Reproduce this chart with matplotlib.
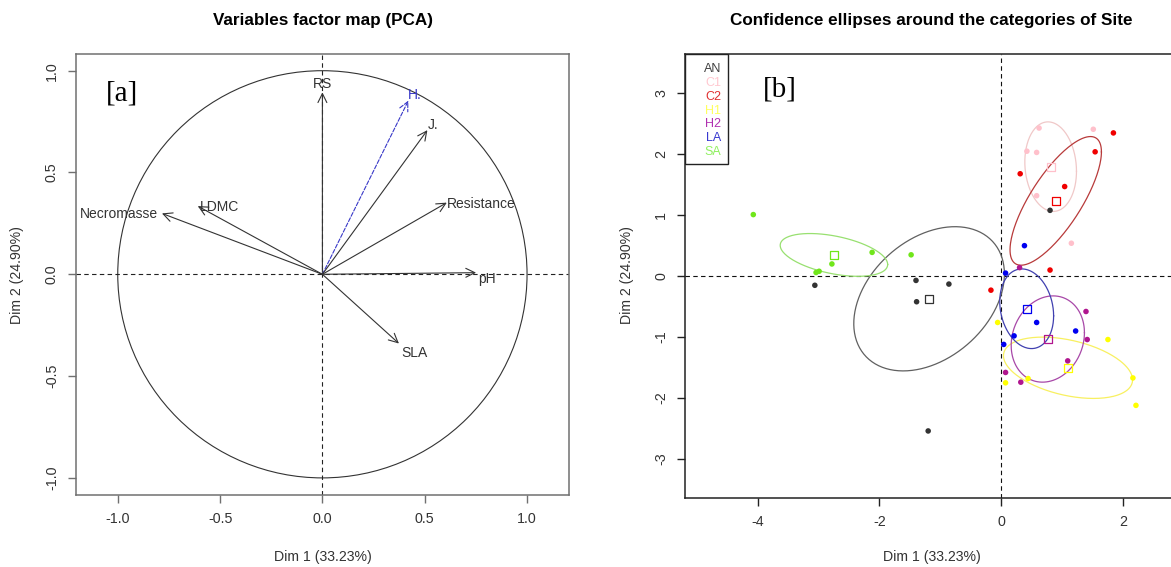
import numpy as np
import matplotlib
matplotlib.use('Agg')
import matplotlib.pyplot as plt
from matplotlib.patches import Circle, Rectangle

plt.rcParams['font.family'] = ['Liberation Sans', 'DejaVu Sans']

# ---- panel a : variables (PCA correlation circle)
var_names = ['RS', 'H.', 'J.', 'Resistance', 'pH', 'SLA', 'Necromasse', 'LDMC']
var_x = [0.0, 0.42, 0.513, 0.608, 0.751, 0.374, -0.784, -0.609]
var_y = [0.894, 0.853, 0.708, 0.352, 0.008, -0.340, 0.299, 0.335]

# ---- panel b : individuals by site
sites = ['AN', 'C1', 'C2', 'H1', 'H2', 'LA', 'SA']
AN_x = [0.80, -3.06, -1.40, -0.86, -1.39, -1.20]
AN_y = [1.08, -0.15, -0.07, -0.13, -0.42, -2.54]
C1_x = [0.62, 1.51, 0.42, 0.58, 0.58, 1.15]
C1_y = [2.43, 2.41, 2.05, 2.03, 1.32, 0.54]
C2_x = [1.84, 1.54, 0.31, 1.04, 0.80, -0.17]
C2_y = [2.35, 2.04, 1.68, 1.47, 0.10, -0.23]
H1_x = [-0.06, 0.07, 0.44, 1.75, 2.16, 2.21]
H1_y = [-0.76, -1.75, -1.68, -1.04, -1.67, -2.12]
H2_x = [1.39, 1.41, 1.09, 0.07, 0.32, 0.30]
H2_y = [-0.58, -1.04, -1.39, -1.58, -1.74, 0.14]
LA_x = [0.58, 1.22, 0.21, 0.04, 0.38, 0.07]
LA_y = [-0.76, -0.90, -0.98, -1.12, 0.50, 0.05]
SA_x = [-4.07, -2.12, -1.48, -2.78, -3.04, -2.99]
SA_y = [1.01, 0.39, 0.35, 0.20, 0.06, 0.08]

site_x = [AN_x, C1_x, C2_x, H1_x, H2_x, LA_x, SA_x]
site_y = [AN_y, C1_y, C2_y, H1_y, H2_y, LA_y, SA_y]

pt_col = ['#333333', '#FFC0CB', '#F00000', '#FFFF00', '#B0168F', '#0000F0', '#70E61A']
ell_col = ['#606060', '#F0C8C8', '#B83A3A', '#F8F060', '#A848A8', '#4040B0', '#98E070']
leg_col = ['#404040', '#FFC8D0', '#E03030', '#FFFF60', '#B030B0', '#3838D0', '#90F060']

# label placement (dx, dy, ha)
lab_pos = {'RS': (0, 0.04, 'center'), 'H.': (0, 0.028, 'left'), 'J.': (0, 0.026, 'left'),
           'Resistance': (0, -0.008, 'left'), 'pH': (0.01, -0.031, 'left'),
           'SLA': (0.01, -0.048, 'left'), 'Necromasse': (-0.02, -0.003, 'right'),
           'LDMC': (0.01, -0.004, 'left')}

W, H = 1171, 567
fig = plt.figure(figsize=(W / 100, H / 100), dpi=100)


def px_axes(x0, y0, x1, y1):
    return fig.add_axes([x0 / W, 1 - y1 / H, (x1 - x0) / W, (y1 - y0) / H])


def style_axes(ax, col):
    for s in ax.spines.values():
        s.set_color(col)
        s.set_linewidth(1.1)
    ax.tick_params(axis='both', length=5.8, width=1.0, color=col, labelsize=10.3,
                   labelcolor='#333333', pad=6.5)
    ax.tick_params(axis='y', labelrotation=90)
    for t in ax.get_yticklabels():
        t.set_va('center')


# ---------------- panel a
ax1 = px_axes(76, 54, 569, 495)
ax1.set_xlim(-1.204, 1.205)
ax1.set_ylim(-1.084, 1.082)
ax1.add_patch(Circle((0, 0), 1, fill=False, color='#333333', lw=0.8))
ax1.axhline(0, color='#222222', lw=0.8, ls=(0, (4, 3)))
ax1.axvline(0, color='#222222', lw=0.8, ls=(0, (4, 3)))
for n, x, y in zip(var_names, var_x, var_y):
    c = '#3838C8' if n == 'H.' else '#333333'
    ls = '--' if n == 'H.' else '-'
    ax1.annotate('', xy=(x, y), xytext=(0, 0),
                 arrowprops=dict(arrowstyle='->,head_length=0.65,head_width=0.32',
                                 color=c, lw=0.8, ls=ls, shrinkA=0, shrinkB=0))
    dx, dy, ha = lab_pos[n]
    ax1.text(x + dx, y + dy, n, ha=ha, va='center', fontsize=10, color=c)
ax1.set_xticks([-1, -0.5, 0, 0.5, 1])
ax1.set_xticklabels(['-1.0', '-0.5', '0.0', '0.5', '1.0'])
ax1.set_yticks([-1, -0.5, 0, 0.5, 1])
ax1.set_yticklabels(['-1.0', '-0.5', '0.0', '0.5', '1.0'])
style_axes(ax1, '#707070')
ax1.text(0.094, 0.91, '[a]', transform=ax1.transAxes, ha='center', va='center',
         fontsize=21, family='Liberation Serif')

# ---------------- panel b
ax2 = px_axes(685.3, 54.3, 1178, 498.3)
ax2.set_xlim(-5.186, 2.90)
ax2.set_ylim(-3.645, 3.64)
ax2.axhline(0, color='#111111', lw=0.8, ls=(0, (4, 3)))
ax2.axvline(0, color='#111111', lw=0.8, ls=(0, (4, 3)))

tq = np.sqrt(-2 * np.log(0.05))  # sqrt(qchisq(.95, 2))
th = np.linspace(0, 2 * np.pi, 200)
for xs, ys, pc, ec in zip(site_x, site_y, pt_col, ell_col):
    xs = np.array(xs)
    ys = np.array(ys)
    mx, my = xs.mean(), ys.mean()
    L = np.linalg.cholesky(np.cov(xs, ys) / len(xs))
    e = L @ np.vstack([np.cos(th), np.sin(th)]) * tq
    ax2.plot(e[0] + mx, e[1] + my, color=ec, lw=0.9, zorder=2)
    ax2.scatter(xs, ys, s=16, color=pc, edgecolors='none', zorder=3)
    ax2.scatter([mx], [my], s=32, marker='s', facecolors='none', edgecolors=pc,
                linewidths=0.9, zorder=3)

ax2.set_xticks([-4, -2, 0, 2])
ax2.set_xticklabels(['-4', '-2', '0', '2'])
ax2.set_yticks([-3, -2, -1, 0, 1, 2, 3])
ax2.set_yticklabels(['-3', '-2', '-1', '0', '1', '2', '3'])
style_axes(ax2, '#222222')

# legend box (text only, as in R)
ax2.add_patch(Rectangle((0, 0.753), 0.086, 0.247, transform=ax2.transAxes, fill=False,
                        ec='#222222', lw=1.0, zorder=4))
for i, (s, c) in enumerate(zip(sites, leg_col)):
    ax2.text(0.0725, 0.966 - i * 0.0309, s, transform=ax2.transAxes, ha='right',
             va='center', fontsize=9, color=c)
ax2.text(0.192, 0.92, '[b]', transform=ax2.transAxes, ha='center', va='center',
         fontsize=21, family='Liberation Serif')

# titles and axis labels
for ax, title, ylx in [(ax1, 'Variables factor map (PCA)', 17),
                       (ax2, 'Confidence ellipses around the categories of Site', 627)]:
    b = ax.get_position()
    cx = (b.x0 + b.x1) / 2
    fig.text(cx, 1 - 20 / H, title, ha='center', va='center', fontsize=12.3,
             fontweight='bold')
    fig.text(cx, 1 - 557 / H, 'Dim 1 (33.23%)', ha='center', va='center',
             fontsize=10.2, color='#333333')
    fig.text(ylx / W, 1 - 275 / H, 'Dim 2 (24.90%)', ha='center', va='center',
             rotation=90, fontsize=10.2, color='#333333')

fig.savefig('out.png', dpi=100)
